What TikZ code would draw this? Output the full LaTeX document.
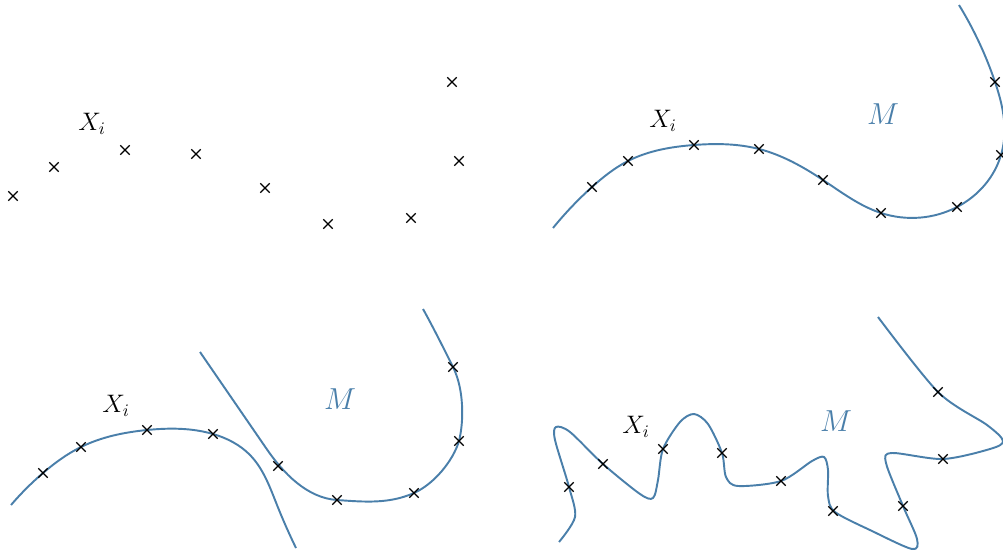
\documentclass[tikz,border=0pt]{standalone}
\usepackage{amsmath}
\usepackage{xcolor}
\usepackage{tikz}
\usetikzlibrary{shapes.misc,hobby}
\definecolor{manifold}{HTML}{4A7FAA}
\definecolor{darkbg}{HTML}{000000}

\tikzset{
  sample/.style={cross out, draw=darkbg, line width=0.75pt, minimum size=0.16cm, inner sep=0pt},
  curve/.style={draw=manifold, line width=1.1pt, use Hobby shortcut},
  stroke/.style={draw=manifold, line width=1.1pt},
  wiggle/.style={draw=manifold, line width=1.1pt, smooth, tension=0.5},
  lbl/.style={inner sep=0pt, font=\Large},
  mlbl/.style={inner sep=0pt, text=manifold, font=\LARGE}
}

\begin{document}
\begin{tikzpicture}[x=0.02cm, y=-0.02cm]
      \useasboundingbox (0,0) rectangle (1003,554);

      % top left: samples only
      \node[lbl] (xa) at (92,124) {$X_i$};
      \foreach \p in {(13,196),(54,167),(125,150),(196,154),(265,188),(328,224),(411,218),(452,82),(459,161)}
        \node[sample] at \p {};

      % top right: one smooth manifold
      \draw[curve] (553,228) .. (592,187) .. (628,161) .. (694,145) .. (759,149) .. (823,180) .. (881,213) .. (957,207) .. (1001,155) .. (1004,120) .. (995,82) .. (959,5);
      \node[lbl] (xb) at (663,121) {$X_i$};
      \node[mlbl] (mb) at (883,114) {$M$};
      \foreach \p in {(592,187),(628,161),(694,145),(759,149),(823,180),(881,213),(957,207),(1001,155),(995,82)}
        \node[sample] at \p {};

      % bottom left: two pieces
      \draw[curve] (11,505) .. (43,473) .. (81,447) .. (147,430) .. (213,434) .. (250,455) .. (277,505) .. (296,548);
      \draw[stroke] (200,352) -- (266,448) .. controls (283,473) and (307,498) .. (337,500)
        .. controls (365,502) and (389,504) .. (414,493)
        .. controls (434,484) and (453,461) .. (459,441)
        .. controls (464,421) and (464,389) .. (453,367)
        .. controls (444,349) and (432,325) .. (423,309);
      \node[lbl] (xc) at (116,406) {$X_i$};
      \node[mlbl] (mc) at (340,399) {$M$};
      \foreach \p in {(43,473),(81,447),(147,430),(213,434),(278,466),(337,500),(414,493),(459,441),(453,367)}
        \node[sample] at \p {};

      % bottom right: wiggly fit
      \draw[wiggle] plot coordinates {(559,542) (575,517) (569,487) (555,440) (556,427) (570,432) (603,464) (640,494) (653,498) (658,480) (663,449) (680,422) (694,414) (708,424) (722,453) (726,477) (738,486) (781,481) (812,461) (824,457) (828,470) (828,496) (835,512) (872,531) (912,549) (917,539) (903,506) (886,463) (892,453) (943,459) (990,449) (1003,441) (987,425) (938,392) (878,317)};
      \node[lbl] (xd) at (636,427) {$X_i$};
      \node[mlbl] (md) at (836,421) {$M$};
      \foreach \p in {(569,487),(603,464),(663,449),(722,453),(781,481),(833,511),(903,506),(943,459),(938,392)}
        \node[sample] at \p {};
    \end{tikzpicture}
\end{document}
